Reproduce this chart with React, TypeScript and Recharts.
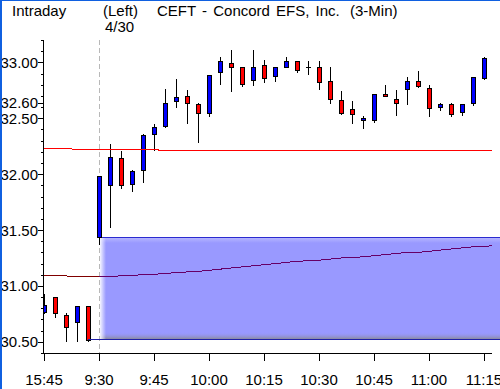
import React from 'react';
import {
  ComposedChart,
  Bar,
  Line,
  XAxis,
  YAxis,
  ReferenceArea,
  ReferenceLine,
} from 'recharts';

// ---- data ----
const xLabels = ['15:45', '9:30', '9:45', '10:00', '10:15', '10:30', '10:45', '11:00', '11:15'];
const xTickIdx = [0, 5, 10, 15, 20, 25, 30, 35, 40];

const opens = [
  30.77, 30.9, 30.74, 30.68, 30.82, 31.44, 31.9, 32.14, 31.91, 32.04,
  32.36, 32.43, 32.65, 32.7, 32.63, 32.55, 32.91, 32.99, 32.955, 32.84,
  32.98, 32.875, 32.96, 33.01, 32.96, 32.955, 32.83, 32.66, 32.58, 32.48,
  32.48, 32.72, 32.67, 32.76, 32.83, 32.77, 32.6, 32.63, 32.56, 32.64,
  32.86,
];
const highs = [
  30.93, 30.9, 30.76, 30.82, 30.82, 31.98, 32.27, 32.21, 32.04, 32.36,
  32.45, 32.76, 32.85, 32.75, 32.64, 32.89, 33.05, 33.11, 32.96, 33.11,
  33.02, 32.96, 33.05, 33.01, 33.01, 33.01, 32.955, 32.74, 32.65, 32.52,
  32.72, 32.8, 32.75, 32.87, 32.92, 32.8, 32.64, 32.64, 32.63, 32.87,
  33.05,
];
const lows = [
  30.76, 30.72, 30.51, 30.51, 30.51, 31.375, 31.53, 31.88, 31.85, 31.93,
  32.22, 32.42, 32.6, 32.46, 32.29, 32.52, 32.81, 32.74, 32.79, 32.8,
  32.82, 32.83, 32.955, 32.91, 32.9, 32.76, 32.64, 32.54, 32.46, 32.41,
  32.47, 32.7, 32.53, 32.63, 32.78, 32.52, 32.57, 32.52, 32.53, 32.62,
  32.85,
];
const closes = [
  30.83, 30.76, 30.63, 30.82, 30.52, 31.98, 32.15, 31.9, 32.03, 32.35,
  32.42, 32.64, 32.69, 32.64, 32.55, 32.89, 33.01, 32.96, 32.81, 32.96,
  32.86, 32.96, 33.01, 32.93, 32.96, 32.82, 32.67, 32.55, 32.54, 32.5,
  32.72, 32.7, 32.64, 32.83, 32.79, 32.59, 32.625, 32.54, 32.63, 32.87,
  33.04,
];

// red average line (prior levels), one value per bar slot (last slot = next bar)
const redLine = [
  32.23, 32.23, 32.23, 32.22, 32.22, 32.22, 32.22, 32.22, 32.22, 32.22,
  32.22, 32.21, 32.21, 32.21, 32.21, 32.21, 32.21, 32.21, 32.21, 32.21,
  32.21, 32.21, 32.21, 32.21, 32.21, 32.21, 32.21, 32.21, 32.21, 32.21,
  32.21, 32.21, 32.21, 32.21, 32.21, 32.21, 32.21, 32.21, 32.21, 32.21,
  32.21, 32.21,
];
// maroon average line (before the session band) and its continuation (inside band)
const maroonLine = [31.09, 31.09, 31.09, 31.08, 31.08, 31.08];
const purpleLine = [
  31.08, 31.085, 31.09, 31.095, 31.1, 31.105, 31.11, 31.12, 31.125, 31.13,
  31.14, 31.15, 31.16, 31.17, 31.18, 31.19, 31.2, 31.21, 31.22, 31.225,
  31.23, 31.24, 31.25, 31.255, 31.26, 31.27, 31.28, 31.29, 31.3, 31.3,
  31.31, 31.32, 31.33, 31.34, 31.35, 31.355, 31.36,
];
const purpleStart = 5;

const yMajorTicks = [30.5, 31.0, 31.5, 32.0, 32.5, 33.0];
const yMinorTicks = [
  30.4, 30.6, 30.7, 30.8, 30.9, 31.1, 31.2, 31.3, 31.4, 31.6, 31.7, 31.8,
  31.9, 32.1, 32.2, 32.3, 32.4, 32.6, 32.7, 32.8, 32.9, 33.1, 33.2,
];
const markerValue = 32.64;
const markerLabel = '32.60';

const yDomain = [30.4, 33.2];
const xDomain = [-0.0909, 40.727];

const sessionStart = 5; // 9:30 bar
const bandLow = 30.525;
const bandHigh = 31.44;
const bandX1 = 5.09;
const bandX2 = 41.6;
const lowLevel = 30.525;
const lowLineX1 = 4;

const data = redLine.map((r, i) => ({
  i,
  open: opens[i],
  high: highs[i],
  low: lows[i],
  close: closes[i],
  red: r,
  maroon: i < maroonLine.length ? maroonLine[i] : null,
  purple: i >= purpleStart ? purpleLine[i - purpleStart] : null,
}));

const FONT = "'Liberation Sans', Arial, sans-serif";

const Candle = (props: any) => {
  const { x, y, width, height, payload } = props;
  if (!payload || payload.open == null || x == null) return <g />;
  const { open, close, high, low } = payload;
  const top = Math.min(y, y + height);
  const h = Math.abs(height);
  const ratio = h / (high - low);
  const yOf = (v: number) => top + (high - v) * ratio;
  const c = Math.round(x + width / 2);
  const yh = Math.round(yOf(high));
  const yl = Math.round(yOf(low));
  const bt = Math.round(yOf(Math.max(open, close)));
  const bb = Math.round(yOf(Math.min(open, close)));
  const up = close > open;
  const doji = open === close;
  return (
    <g shapeRendering="crispEdges">
      <line x1={c + 0.5} x2={c + 0.5} y1={yh} y2={yl + 1} stroke="#000" strokeWidth={1} />
      {doji ? (
        <line x1={c - 2} x2={c + 3} y1={bt + 0.5} y2={bt + 0.5} stroke="#000" strokeWidth={1} />
      ) : (
        <rect
          x={c - 1.5}
          y={bt + 0.5}
          width={4}
          height={Math.max(1, bb - bt)}
          fill={up ? '#0000ff' : '#ff0000'}
          stroke="#000"
          strokeWidth={1}
        />
      )}
    </g>
  );
};

const XTick = (props: any) => {
  const { x, y, payload } = props;
  const k = xTickIdx.indexOf(payload.value);
  const px = Math.round(x) + 0.5;
  return (
    <g>
      <line x1={px} x2={px} y1={y} y2={y + 8} stroke="#000" strokeWidth={1} shapeRendering="crispEdges" />
      <text x={x} y={y + 32} textAnchor="middle" fontFamily={FONT} fontSize={15} fill="#000">
        {k >= 0 ? xLabels[k] : ''}
      </text>
    </g>
  );
};

const YTick = (props: any) => {
  const { x, y, payload } = props;
  const v = payload.value;
  const py = Math.round(y) + 0.5;
  const isMarker = Math.abs(v - markerValue) < 1e-6;
  const isMajor = yMajorTicks.some((t) => Math.abs(t - v) < 1e-6);
  if (isMarker || isMajor) {
    return (
      <g>
        {isMarker && <rect x={2} y={y - 7} width={36} height={16} fill="#fff" />}
        <line x1={x - 5} x2={x} y1={py} y2={py} stroke="#000" strokeWidth={1} shapeRendering="crispEdges" />
        <text x={x - 5} y={y + 5.5} textAnchor="end" fontFamily={FONT} fontSize={15} fill="#000">
          {isMarker ? markerLabel : v.toFixed(2)}
        </text>
      </g>
    );
  }
  return <line x1={x - 2} x2={x} y1={py} y2={py} stroke="#000" strokeWidth={1} shapeRendering="crispEdges" />;
};

// day separator, drawn in the area layer so the candles sit on top of it
const SeparatorShape = (props: any) => {
  const { x, y, height } = props;
  if (x == null) return <g />;
  const px = Math.round(x) + 0.5;
  return (
    <line
      x1={px}
      x2={px}
      y1={y}
      y2={y + height}
      stroke="#b8b8b8"
      strokeWidth={1}
      strokeDasharray="5 3"
      shapeRendering="crispEdges"
    />
  );
};

const BandShape = (props: any) => {
  const { x, y, width, height } = props;
  if (x == null) return <g />;
  const X = Math.round(x);
  const Y = Math.round(y);
  const W = Math.round(width);
  const H = Math.round(height);
  return (
    <g shapeRendering="crispEdges">
      <defs>
        <linearGradient id="bandBottom" x1="0" y1="0" x2="0" y2="1">
          <stop offset="0" stopColor="#9999ff" stopOpacity={0} />
          <stop offset="1" stopColor="#8a8a9e" stopOpacity={1} />
        </linearGradient>
        <linearGradient id="bandLeft" x1="0" y1="0" x2="1" y2="0">
          <stop offset="0" stopColor="#ffffff" stopOpacity={0.9} />
          <stop offset="1" stopColor="#ffffff" stopOpacity={0} />
        </linearGradient>
        <linearGradient id="bandTop" x1="0" y1="0" x2="0" y2="1">
          <stop offset="0" stopColor="#b4b4ff" stopOpacity={1} />
          <stop offset="1" stopColor="#9999ff" stopOpacity={1} />
        </linearGradient>
      </defs>
      <rect x={X} y={Y} width={W} height={H} fill="#9999ff" />
      <rect x={X} y={Y + 1} width={W} height={5} fill="url(#bandTop)" />
      <rect x={X} y={Y + H - 7} width={W} height={7} fill="url(#bandBottom)" />
      <rect x={X} y={Y} width={6} height={H} fill="url(#bandLeft)" />
      <line x1={X} x2={X + W} y1={Y + 0.5} y2={Y + 0.5} stroke="#2b2bd0" strokeWidth={1} />
    </g>
  );
};

export default function App() {
  return (
    <div style={{ position: 'absolute', left: 0, top: 0, width: 500, height: 389, background: '#fff', overflow: 'hidden' }}>
      <style>{`.recharts-curve, .recharts-cartesian-axis-line, .recharts-reference-line-line { shape-rendering: crispEdges; }`}</style>
      <ComposedChart
        width={500}
        height={389}
        data={data}
        margin={{ top: 40, right: 8, left: 0, bottom: 0 }}
      >
        <XAxis
          type="number"
          dataKey="i"
          domain={xDomain}
          allowDataOverflow
          ticks={xTickIdx}
          interval={0}
          tick={<XTick />}
          tickLine={false}
          tickSize={0}
          tickMargin={0}
          axisLine={{ stroke: '#000' }}
          height={36}
        />
        <YAxis
          type="number"
          domain={yDomain}
          allowDataOverflow
          ticks={[...yMinorTicks, ...yMajorTicks, markerValue]}
          interval={0}
          tick={<YTick />}
          tickLine={false}
          tickSize={0}
          tickMargin={0}
          axisLine={{ stroke: '#000' }}
          width={43}
        />
        <ReferenceArea
          x1={sessionStart}
          x2={sessionStart}
          y1={yDomain[0]}
          y2={yDomain[1]}
          ifOverflow="visible"
          shape={<SeparatorShape />}
        />
        <ReferenceArea
          x1={bandX1}
          x2={bandX2}
          y1={bandLow}
          y2={bandHigh}
          ifOverflow="visible"
          shape={<BandShape />}
        />
        <ReferenceLine
          segment={[
            { x: lowLineX1, y: lowLevel },
            { x: bandX2, y: lowLevel },
          ]}
          stroke="#2020a8"
          ifOverflow="visible"
        />
        <Bar
          dataKey={(d: any) => (d.low != null ? [d.low, d.high] : null)}
          barSize={5}
          shape={<Candle />}
          isAnimationActive={false}
        />
        <Line dataKey="red" stroke="#ff0000" strokeWidth={1} dot={false} activeDot={false} isAnimationActive={false} />
        <Line dataKey="maroon" stroke="#800000" strokeWidth={1} dot={false} activeDot={false} isAnimationActive={false} />
        <Line dataKey="purple" stroke="#660066" strokeWidth={1} dot={false} activeDot={false} isAnimationActive={false} />
      </ComposedChart>
      <svg
        width={500}
        height={40}
        style={{ position: 'absolute', left: 0, top: 0, pointerEvents: 'none' }}
      >
        <text x={12} y={16} fontFamily={FONT} fontSize={15} fill="#000">Intraday</text>
        <text x={103} y={16} fontFamily={FONT} fontSize={15} fill="#000">(Left)</text>
        <text x={105} y={32} fontFamily={FONT} fontSize={15} fill="#000">4/30</text>
        <text x={157} y={16} fontFamily={FONT} fontSize={15} fill="#000" wordSpacing={2}>CEFT - Concord EFS, Inc.</text>
        <text x={350} y={16} fontFamily={FONT} fontSize={15} fill="#000">(3-Min)</text>
      </svg>
      <div style={{ position: 'absolute', left: 0, top: 0, width: 500, height: 1, background: '#1060e0' }} />
      <div style={{ position: 'absolute', left: 0, top: 0, width: 2, height: 389, background: '#1060e0' }} />
    </div>
  );
}
